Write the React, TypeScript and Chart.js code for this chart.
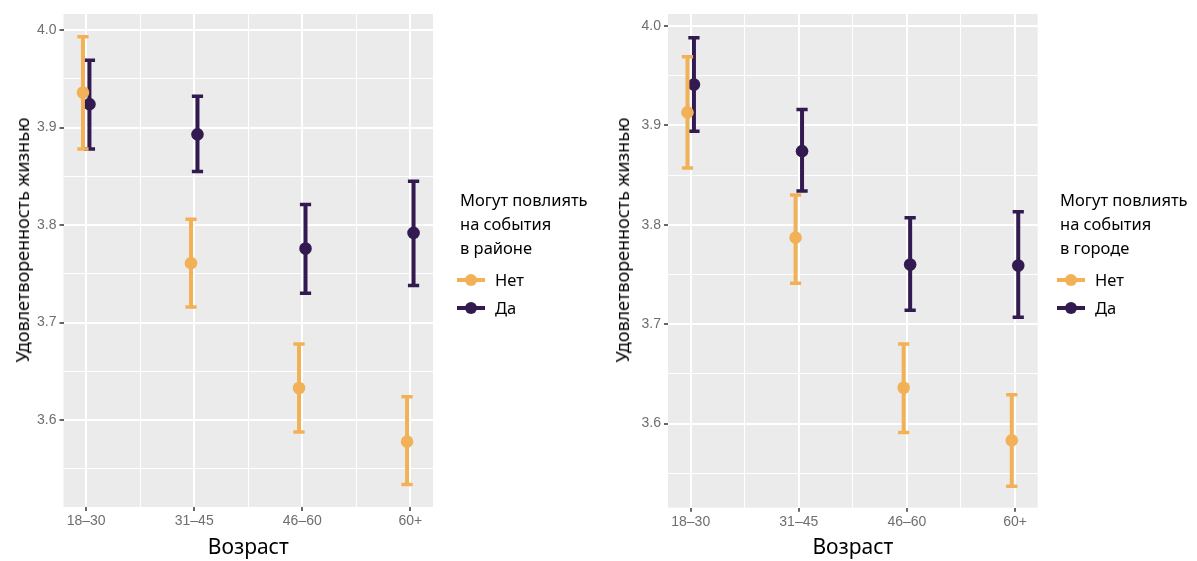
import React, { useEffect, useRef } from "react";
import { Chart, registerables } from "chart.js";

Chart.register(...registerables);

// ---------- data ----------
const ageGroups = ["18–30", "31–45", "46–60", "60+"];
const groupLabels = ["Нет", "Да"];
const groupColors = ["#F2B157", "#331A50"];

const yTitle = "Удовлетворенность жизнью";
const xTitle = "Возраст";
const legendTitleDistrict = ["Могут повлиять", "на события", "в районе"];
const legendTitleCity = ["Могут повлиять", "на события", "в городе"];

// left panel: district
const districtNoMean = [3.936, 3.761, 3.633, 3.578];
const districtNoLow = [3.878, 3.716, 3.588, 3.534];
const districtNoHigh = [3.993, 3.806, 3.678, 3.624];
const districtYesMean = [3.924, 3.893, 3.776, 3.792];
const districtYesLow = [3.878, 3.855, 3.73, 3.738];
const districtYesHigh = [3.969, 3.932, 3.821, 3.845];

// right panel: city
const cityNoMean = [3.913, 3.787, 3.636, 3.583];
const cityNoLow = [3.857, 3.741, 3.591, 3.537];
const cityNoHigh = [3.969, 3.83, 3.68, 3.629];
const cityYesMean = [3.941, 3.874, 3.76, 3.759];
const cityYesLow = [3.894, 3.834, 3.714, 3.707];
const cityYesHigh = [3.988, 3.916, 3.807, 3.813];

const yMajorTicks = [3.6, 3.7, 3.8, 3.9, 4.0];
const yMinorTicks = [3.55, 3.65, 3.75, 3.85, 3.95];

// ---------- styling ----------
const FONT = "'Noto Sans', sans-serif";
const TICK_FONT = "'Liberation Sans', Arial, sans-serif";
const DODGE = 0.03;
const CAP = 0.052;

const panelBg = {
  id: "panelBg",
  beforeDraw(chart: any) {
    const { ctx, chartArea } = chart;
    ctx.save();
    ctx.fillStyle = "#EBEBEB";
    ctx.fillRect(chartArea.left, chartArea.top, chartArea.width, chartArea.height);
    ctx.restore();
  },
};

const errorBars = {
  id: "errorBars",
  afterDatasetDraw(chart: any, args: any) {
    const ds = chart.data.datasets[args.index];
    const xs = chart.scales.x;
    const ys = chart.scales.y;
    const ctx = chart.ctx;
    ctx.save();
    ctx.strokeStyle = ds.backgroundColor;
    ctx.lineCap = "butt";
    ds.data.forEach((p: any, i: number) => {
      const px = xs.getPixelForValue(p.x);
      const pl = ys.getPixelForValue(ds.errLow[i]);
      const ph = ys.getPixelForValue(ds.errHigh[i]);
      const c0 = xs.getPixelForValue(p.x - CAP);
      const c1 = xs.getPixelForValue(p.x + CAP);
      ctx.lineWidth = 4;
      ctx.beginPath();
      ctx.moveTo(px, pl);
      ctx.lineTo(px, ph);
      ctx.stroke();
      ctx.lineWidth = 3.5;
      ctx.beginPath();
      ctx.moveTo(c0, pl);
      ctx.lineTo(c1, pl);
      ctx.moveTo(c0, ph);
      ctx.lineTo(c1, ph);
      ctx.stroke();
    });
    ctx.restore();
  },
};

const isMajorX = (v: number) => Math.abs(v - Math.round(v)) < 1e-6;
const isMajorY = (v: number) => Math.abs(v * 10 - Math.round(v * 10)) < 1e-6;

type PanelProps = {
  left: number;
  width: number;
  yAxisWidth: number;
  padRight: number;
  xAxisHeight: number;
  yMin: number;
  yMax: number;
  noMean: number[];
  noLow: number[];
  noHigh: number[];
  yesMean: number[];
  yesLow: number[];
  yesHigh: number[];
  legendTitle: string[];
};

function Panel(props: PanelProps) {
  const ref = useRef<HTMLCanvasElement | null>(null);
  useEffect(() => {
    if (!ref.current) return;
    const series = [
      { mean: props.noMean, low: props.noLow, high: props.noHigh, off: -DODGE },
      { mean: props.yesMean, low: props.yesLow, high: props.yesHigh, off: DODGE },
    ];
    const chart = new Chart(ref.current, {
      type: "scatter",
      data: {
        datasets: series.map((s, gi) => ({
          label: groupLabels[gi],
          data: s.mean.map((v, i) => ({ x: i + 1 + s.off, y: v })),
          errLow: s.low,
          errHigh: s.high,
          backgroundColor: groupColors[gi],
          borderColor: groupColors[gi],
          pointRadius: 6.3,
          pointHoverRadius: 6.3,
          borderWidth: 0,
          showLine: false,
        })) as any,
      },
      options: {
        animation: false,
        responsive: false,
        events: [],
        layout: { padding: { left: 0, right: props.padRight, top: 14, bottom: 0 } },
        plugins: { legend: { display: false }, tooltip: { enabled: false } },
        scales: {
          x: {
            type: "linear",
            min: 0.79,
            max: 4.21,
            afterBuildTicks: (scale: any) => {
              scale.ticks = [1, 1.5, 2, 2.5, 3, 3.5, 4].map((v) => ({ value: v }));
            },
            afterFit: (scale: any) => {
              scale.height = props.xAxisHeight;
            },
            ticks: {
              autoSkip: false,
              maxRotation: 0,
              padding: 2,
              color: "#6e6e6e",
              font: { family: TICK_FONT, size: 14 },
              callback: (v: any) => (isMajorX(Number(v)) ? ageGroups[Math.round(Number(v)) - 1] : ""),
            },
            grid: {
              color: "#FFFFFF",
              lineWidth: (c: any) => (isMajorX(c.tick.value) ? 2 : 1),
              tickColor: (c: any) => (isMajorX(c.tick.value) ? "#333333" : "rgba(0,0,0,0)"),
              tickWidth: 1.5,
              tickLength: 4,
            },
            border: { display: false },
            title: {
              display: true,
              text: xTitle,
              color: "#000",
              font: { family: FONT, size: 21 },
              padding: { top: 0, bottom: 0 },
            },
          },
          y: {
            type: "linear",
            min: props.yMin,
            max: props.yMax,
            afterBuildTicks: (scale: any) => {
              scale.ticks = [...yMinorTicks, ...yMajorTicks].sort((a, b) => a - b).map((v) => ({ value: v }));
            },
            afterFit: (scale: any) => {
              scale.width = props.yAxisWidth;
            },
            ticks: {
              autoSkip: false,
              padding: 3,
              color: "#6e6e6e",
              font: { family: TICK_FONT, size: 14 },
              callback: (v: any) => (isMajorY(Number(v)) ? Number(v).toFixed(1) : ""),
            },
            grid: {
              color: "#FFFFFF",
              lineWidth: (c: any) => (isMajorY(c.tick.value) ? 2 : 1),
              tickColor: (c: any) => (isMajorY(c.tick.value) ? "#333333" : "rgba(0,0,0,0)"),
              tickWidth: 1.5,
              tickLength: 4,
            },
            border: { display: false },
            title: { display: false },
          },
        },
      } as any,
      plugins: [panelBg, errorBars],
    });
    return () => chart.destroy();
  }, []);

  const L = props.left;
  const titleLeft = L + 460;
  const keyLeft = L + 457;
  const itemLeft = L + 495;
  return (
    <>
      <canvas
        ref={ref}
        width={props.width}
        height={561}
        style={{ position: "absolute", left: L, top: 0, width: props.width, height: 561 }}
      />
      <div
        style={{
          position: "absolute",
          left: L + 22,
          top: 240,
          transform: "translate(-50%, -50%) rotate(-90deg)",
          fontFamily: FONT,
          fontSize: 18,
          lineHeight: "22px",
          color: "#000",
          whiteSpace: "nowrap",
        }}
      >
        {yTitle}
      </div>
      {props.legendTitle.map((t, i) => (
        <div
          key={"t" + i}
          style={{
            position: "absolute",
            left: titleLeft,
            top: 188 + i * 24,
            lineHeight: "24px",
            fontFamily: FONT,
            fontSize: 16.5,
            color: "#000",
            whiteSpace: "nowrap",
          }}
        >
          {t}
        </div>
      ))}
      {groupLabels.map((g, i) => {
        const cy = 280 + i * 28;
        return (
          <React.Fragment key={"g" + i}>
            <div
              style={{
                position: "absolute",
                left: keyLeft,
                top: cy - 1.75,
                width: 28,
                height: 3.5,
                background: groupColors[i],
              }}
            />
            <div
              style={{
                position: "absolute",
                left: keyLeft + 8,
                top: cy - 6,
                width: 12,
                height: 12,
                borderRadius: 6,
                background: groupColors[i],
              }}
            />
            <div
              style={{
                position: "absolute",
                left: itemLeft,
                top: cy - 12,
                lineHeight: "24px",
                fontFamily: FONT,
                fontSize: 16.5,
                color: "#000",
                whiteSpace: "nowrap",
              }}
            >
              {g}
            </div>
          </React.Fragment>
        );
      })}
    </>
  );
}

export default function App() {
  return (
    <div
      style={{
        position: "fixed",
        left: 0,
        top: 0,
        width: 1197,
        height: 561,
        background: "#FFFFFF",
        overflow: "hidden",
      }}
    >
      <Panel
        left={0}
        width={600}
        yAxisWidth={63.5}
        padRight={167}
        xAxisHeight={54}
        yMin={3.511}
        yMax={4.0164}
        noMean={districtNoMean}
        noLow={districtNoLow}
        noHigh={districtNoHigh}
        yesMean={districtYesMean}
        yesLow={districtYesLow}
        yesHigh={districtYesHigh}
        legendTitle={legendTitleDistrict}
      />
      <Panel
        left={600}
        width={597}
        yAxisWidth={68}
        padRight={159.3}
        xAxisHeight={53.3}
        yMin={3.5153}
        yMax={4.012}
        noMean={cityNoMean}
        noLow={cityNoLow}
        noHigh={cityNoHigh}
        yesMean={cityYesMean}
        yesLow={cityYesLow}
        yesHigh={cityYesHigh}
        legendTitle={legendTitleCity}
      />
    </div>
  );
}
